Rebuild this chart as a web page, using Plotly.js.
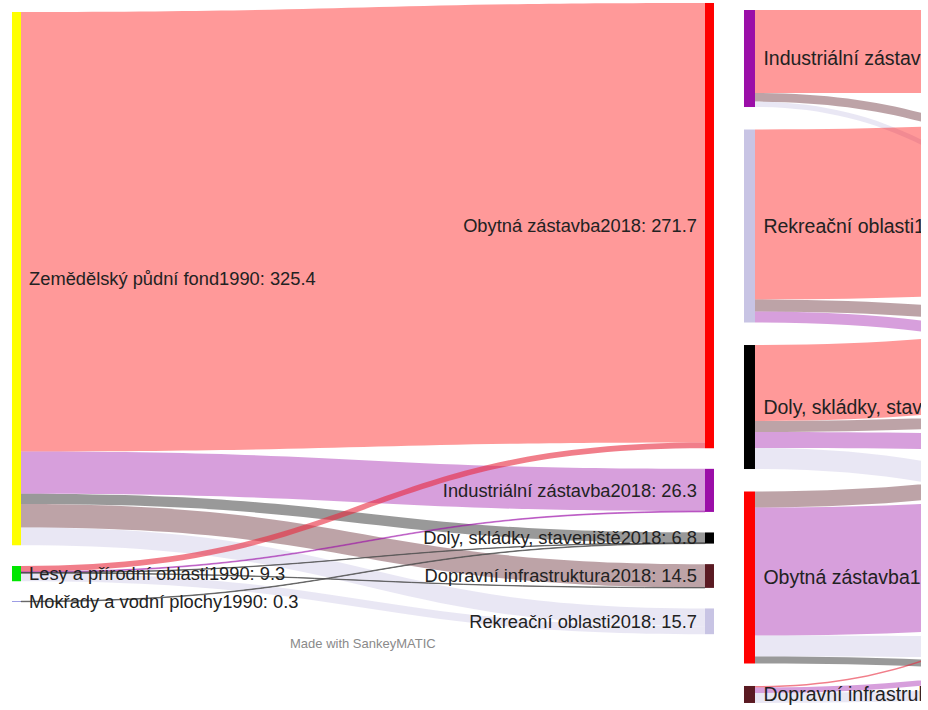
<!DOCTYPE html>
<html><head><meta charset="utf-8">
<script src="https://cdn.plot.ly/plotly-3.0.1.min.js"></script>
<style>
html,body{margin:0;padding:0;background:#fff;overflow:hidden}
#clip{width:921px;height:710px;overflow:hidden;position:relative;background:#fff}
#chart{width:1600px;height:710px}
</style></head>
<body><div id="clip"><div id="chart"></div></div>
<script>
// ---------- Left chart: 1990 -> 2018 ----------
const leftSources = ["Zemědělský půdní fond1990", "Lesy a přírodní oblasti1990", "Mokřady a vodní plochy1990"];
const leftSourceTotals = [325.4, 9.3, 0.3];
const leftTargets = ["Obytná zástavba2018", "Industriální zástavba2018", "Doly, skládky, staveniště2018", "Dopravní infrastruktura2018", "Rekreační oblasti2018"];
const leftTargetTotals = [271.7, 26.3, 6.8, 14.5, 15.7];
const leftFlowSource = [0, 0, 0, 0, 0, 1, 1, 1, 1, 1, 2];
const leftFlowTarget = [0, 1, 2, 3, 4, 0, 1, 2, 3, 4, 2];
const leftFlowValue  = [268.2, 25.8, 6.3, 14.3, 10.8, 3.5, 0.5, 0.2, 0.2, 4.9, 0.3];

// ---------- Right chart (cut off at the right edge) ----------
const rightSources = ["Industriální zástavba1990", "Rekreační oblasti1990", "Doly, skládky, staveniště1990", "Obytná zástavba1990", "Dopravní infrastruktura1990"];
const rightTargets = ["Obytná zástavba2018", "Dopravní infrastruktura2018", "Industriální zástavba2018", "Rekreační oblasti2018", "Doly, skládky, staveniště2018"];
const rightFlowSource = [0, 0, 0, 1, 1, 1, 2, 2, 2, 2, 3, 3, 3, 3, 4, 4, 4];
const rightFlowTarget = [0, 1, 3, 0, 1, 2, 0, 1, 2, 3, 1, 2, 3, 4, 0, 2, 3];
const rightFlowValue  = [41.5, 4.3, 2.7, 85, 6, 5.5, 38, 5.5, 8, 10.5, 8, 64, 10.5, 3.5, 0.75, 2.75, 5];

// ---------- styles ----------
const catColor = {
  "Zemědělský": "#ffff00", "Lesy": "#00e600", "Mokřady": "#3a3ac8",
  "Obytná": "#ff0000", "Industriální": "#9b0ea8", "Doly": "#000000",
  "Dopravní": "#5a1a22", "Rekreační": "#c8c4e4"
};
function colorOf(name) { return catColor[name.split(" ")[0].replace(",", "")]; }
function rgba(hex, a) {
  const r = parseInt(hex.substr(1, 2), 16), g = parseInt(hex.substr(3, 2), 16), b = parseInt(hex.substr(5, 2), 16);
  return "rgba(" + r + "," + g + "," + b + "," + a + ")";
}
const W = 1600, H = 710;
const NB = "\u00a0";
const fontL = {family: "Liberation Sans, Arial, sans-serif", size: 18.3, color: "#222", shadow: "none"};
const fontR = {family: "Liberation Sans, Arial, sans-serif", size: 19.5, color: "#222", shadow: "none"};

function linkColors(tgtNames, ft, fv) {
  return fv.map((v, i) => {
    const tn = tgtNames[ft[i]];
    const c = colorOf(tn);
    if (tn.startsWith("Obytná") && v < 5) return "rgba(232,40,60,0.6)";
    if (v < 1) {
      if (c === "#000000" || tn.startsWith("Dopravní")) return "rgba(80,80,80,0.7)";
      return rgba(c, 0.45);
    }
    return rgba(c, 0.4);
  });
}

// Left trace
const lLabels = leftSources.map((n, i) => NB + n + ": " + leftSourceTotals[i].toFixed(1))
  .concat(leftTargets.map((n, i) => n + ": " + leftTargetTotals[i].toFixed(1) + NB));
const lNames = leftSources.concat(leftTargets);
const nS = leftSources.length;
const lTop = 3, lH = 631, lLeft = 0, lW = 720;
const leftTrace = {
  type: "sankey", arrangement: "fixed",
  domain: {x: [lLeft / W, (lLeft + lW) / W], y: [1 - (lTop + lH) / H, 1 - lTop / H]},
  node: {
    label: lLabels, pad: 20.5, thickness: 9,
    color: lNames.map(colorOf), line: {width: 0},
    x: [0.0229, 0.0229, 0.0229, 0.9854, 0.9854, 0.9854, 0.9854, 0.9854],
    y: [0.4368, 0.9043, 0.9485, 0.3528, 0.7724, 0.8479, 0.9081, 0.9799],
    hoverinfo: "none"
  },
  link: {
    source: leftFlowSource, target: leftFlowTarget.map(t => t + nS), value: leftFlowValue,
    color: linkColors(leftTargets, leftFlowTarget, leftFlowValue), line: {width: 0}, hoverinfo: "none"
  },
  textfont: fontL
};

// Right trace
const rSrcTot = rightSources.map((_, i) => rightFlowValue.filter((v, k) => rightFlowSource[k] === i).reduce((a, b) => a + b, 0));
const rTgtTot = rightTargets.map((_, i) => rightFlowValue.filter((v, k) => rightFlowTarget[k] === i).reduce((a, b) => a + b, 0));
const rLabels = rightSources.map((n, i) => NB + n + ": " + rSrcTot[i].toFixed(1))
  .concat(rightTargets.map((n, i) => n + ": " + rTgtTot[i].toFixed(1) + NB));
const rNames = rightSources.concat(rightTargets);
const rS = rightSources.length;
const rTop = 10, rH = 693, rLeft = 740, rW = 840;
const rightTrace = {
  type: "sankey", arrangement: "fixed",
  domain: {x: [rLeft / W, (rLeft + rW) / W], y: [1 - (rTop + rH) / H, 1 - rTop / H]},
  node: {
    label: rLabels, pad: 22.5, thickness: 11,
    color: rNames.map(colorOf), line: {width: 0},
    x: [0.0113, 0.0113, 0.0113, 0.0113, 0.0113, 0.9554, 0.9554, 0.9554, 0.9554, 0.9554],
    y: [0.0700, 0.3117, 0.5729, 0.8189, 0.9877, 0.2385, 0.5437, 0.7263, 0.9160, 0.9949],
    hoverinfo: "none"
  },
  link: {
    source: rightFlowSource, target: rightFlowTarget.map(t => t + rS), value: rightFlowValue,
    color: linkColors(rightTargets, rightFlowTarget, rightFlowValue), line: {width: 0}, hoverinfo: "none"
  },
  textfont: fontR
};

const layout = {
  width: W, height: H,
  margin: {l: 0, r: 0, t: 0, b: 0},
  paper_bgcolor: "#ffffff",
  showlegend: false,
  annotations: [{
    text: "Made with SankeyMATIC", xref: "paper", yref: "paper",
    x: 363 / W, y: 1 - 643 / H, xanchor: "center", yanchor: "middle",
    showarrow: false, font: {family: "Liberation Sans, Arial, sans-serif", size: 13, color: "#8a8a8a"}
  }]
};
Plotly.newPlot("chart", [leftTrace, rightTrace], layout, {staticPlot: true, displayModeBar: false});
</script>
</body></html>
